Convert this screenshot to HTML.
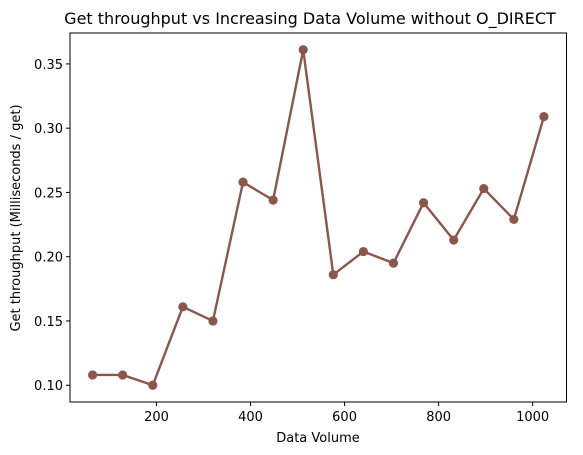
<!DOCTYPE html>
<html><head><meta charset="utf-8"><style>
body{margin:0;background:#fff;}
svg{display:block;font-family:"DejaVu Sans","Liberation Sans",sans-serif;}
</style></head><body>
<svg id="chart" width="583" height="455">
<text x="310" y="24" text-anchor="middle" font-size="16">Get throughput vs Increasing Data Volume without O_DIRECT</text>
<text x="318" y="442" text-anchor="middle" font-size="13">Data Volume</text>
<text transform="translate(20,218) rotate(-90)" text-anchor="middle" font-size="13">Get throughput (Milliseconds / get)</text>
<g id="ticks"></g>
<g id="series"></g>
<rect x="70" y="33" width="496.5" height="369" fill="none" stroke="#000" stroke-width="1"/>
</svg>
<script>
const xValues=[64,128,192,256,320,384,448,512,576,640,704,768,832,896,960,1024];
const yValues=[0.108,0.108,0.100,0.161,0.150,0.258,0.244,0.361,0.186,0.204,0.195,0.242,0.213,0.253,0.229,0.309];
const xTicks=[200,400,600,800,1000];
const yTicks=[0.10,0.15,0.20,0.25,0.30,0.35];
const L=70,R=566.5,T=33,B=402;
const x0=16,x1=1072,y0=0.08695,y1=0.37405;
const sx=v=>L+(v-x0)/(x1-x0)*(R-L);
const sy=v=>B-(v-y0)/(y1-y0)*(B-T);
const NS="http://www.w3.org/2000/svg";
const tg=document.getElementById('ticks'),sg=document.getElementById('series');
function mk(t,a,p){const e=document.createElementNS(NS,t);for(const k in a)e.setAttribute(k,a[k]);p.appendChild(e);return e;}
xTicks.forEach(v=>{const x=sx(v);
 const l=mk('line',{x1:x,x2:x,y1:B,y2:B+4,stroke:'#000'},tg);
 
 
 const t=mk('text',{x:x,y:B+19,'text-anchor':'middle','font-size':13},tg);t.textContent=v;
 
 });
yTicks.forEach(v=>{const y=sy(v);
 const l=mk('line',{x1:L-4,x2:L,y1:y,y2:y,stroke:'#000'},tg);
 
 
 const t=mk('text',{x:L-7,y:y+5,'text-anchor':'end','font-size':13},tg);t.textContent=v.toFixed(2);
 
 });
const pts=xValues.map((v,i)=>sx(v)+','+sy(yValues[i])).join(' ');
const pl=mk('polyline',{points:pts,fill:'none',stroke:'#8c564b','stroke-width':2.4,'stroke-linejoin':'round'},sg);


xValues.forEach((v,i)=>{const c=mk('circle',{cx:sx(v),cy:sy(yValues[i]),r:4.6,fill:'#8c564b'},sg);
 
 });
</script>
</body></html>
